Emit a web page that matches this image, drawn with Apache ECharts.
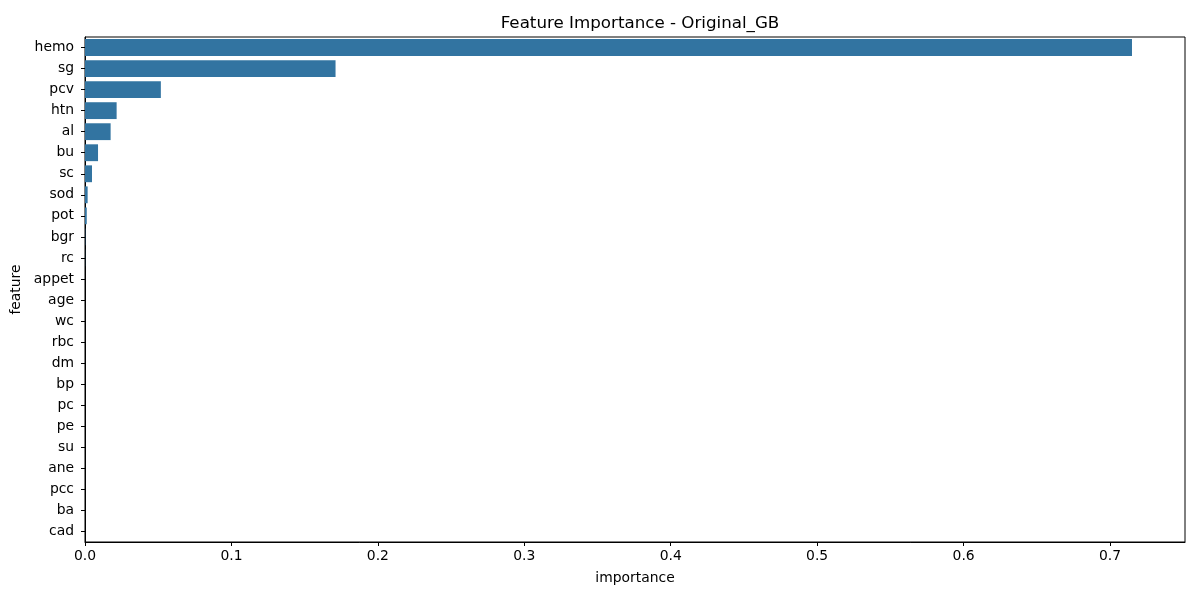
<!DOCTYPE html>
<html>
<head>
<meta charset="utf-8">
<script src="https://cdn.jsdelivr.net/npm/echarts@6/dist/echarts.min.js"></script>
<style>
    html, body { margin: 0; padding: 0; background: #fff; }
    #chart { width: 1200px; height: 600px; }
</style>
</head>
<body>
<div id="chart"></div>
<script>
// feature names, top to bottom
var features = ['hemo', 'sg', 'pcv', 'htn', 'al', 'bu', 'sc', 'sod', 'pot', 'bgr', 'rc', 'appet',
    'age', 'wc', 'rbc', 'dm', 'bp', 'pc', 'pe', 'su', 'ane', 'pcc', 'ba', 'cad'];
// importance
var importance = [0.7150, 0.1711, 0.0518, 0.0216, 0.0175, 0.0089, 0.0048, 0.0018, 0.0012, 0.0002, 0.0001, 0,
    0, 0, 0, 0, 0, 0, 0, 0, 0, 0, 0, 0];
var xTicks = [0, 0.1, 0.2, 0.3, 0.4, 0.5, 0.6, 0.7];

var font = 'DejaVu Sans';
var chart = echarts.init(document.getElementById('chart'));

var option = {
    backgroundColor: '#fff',
    animation: false,
    title: {
        text: 'Feature Importance - Original_GB',
        left: 635,
        top: 10,
        textAlign: 'center',
        textStyle: { fontFamily: font, fontSize: 16.7, fontWeight: 'normal', color: '#000' }
    },
    grid: {
        left: 85, right: 15, top: 37, bottom: 58,
        show: true, borderColor: '#000', borderWidth: 1, backgroundColor: 'transparent'
    },
    xAxis: {
        type: 'value',
        min: 0,
        max: 0.7512,
        interval: 0.1,
        name: 'importance',
        nameLocation: 'middle',
        nameGap: 29,
        nameTextStyle: { fontFamily: font, fontSize: 13.9, color: '#000' },
        axisLine: { show: true, lineStyle: { color: '#000', width: 1 } },
        axisTick: { show: true, length: 4, lineStyle: { color: '#000' } },
        axisLabel: {
            fontFamily: font, fontSize: 13.9, color: '#000', margin: 7,
            showMaxLabel: false,
            formatter: function(v) {
                // only label the 0.1 ticks
                for (var i = 0; i < xTicks.length; i++) {
                    if (Math.abs(xTicks[i] - v) < 1e-9) return v.toFixed(1);
                }
                return '';
            }
        },
        splitLine: { show: false }
    },
    yAxis: {
        type: 'category',
        data: features,
        inverse: true,
        name: 'feature',
        nameLocation: 'middle',
        nameGap: 60,
        nameRotate: 90,
        nameTextStyle: { fontFamily: font, fontSize: 13.9, color: '#000' },
        axisLine: { show: true, lineStyle: { color: '#000', width: 1 } },
        axisTick: { show: true, length: 4, alignWithLabel: true, lineStyle: { color: '#000' } },
        axisLabel: { fontFamily: font, fontSize: 13.9, color: '#000', margin: 11 }
    },
    series: [{
        type: 'bar',
        data: importance,
        barCategoryGap: '20%',
        itemStyle: { color: '#3274a1' }
    }]
};

chart.setOption(option);
window.onresize = chart.resize;
</script>
</body>
</html>
